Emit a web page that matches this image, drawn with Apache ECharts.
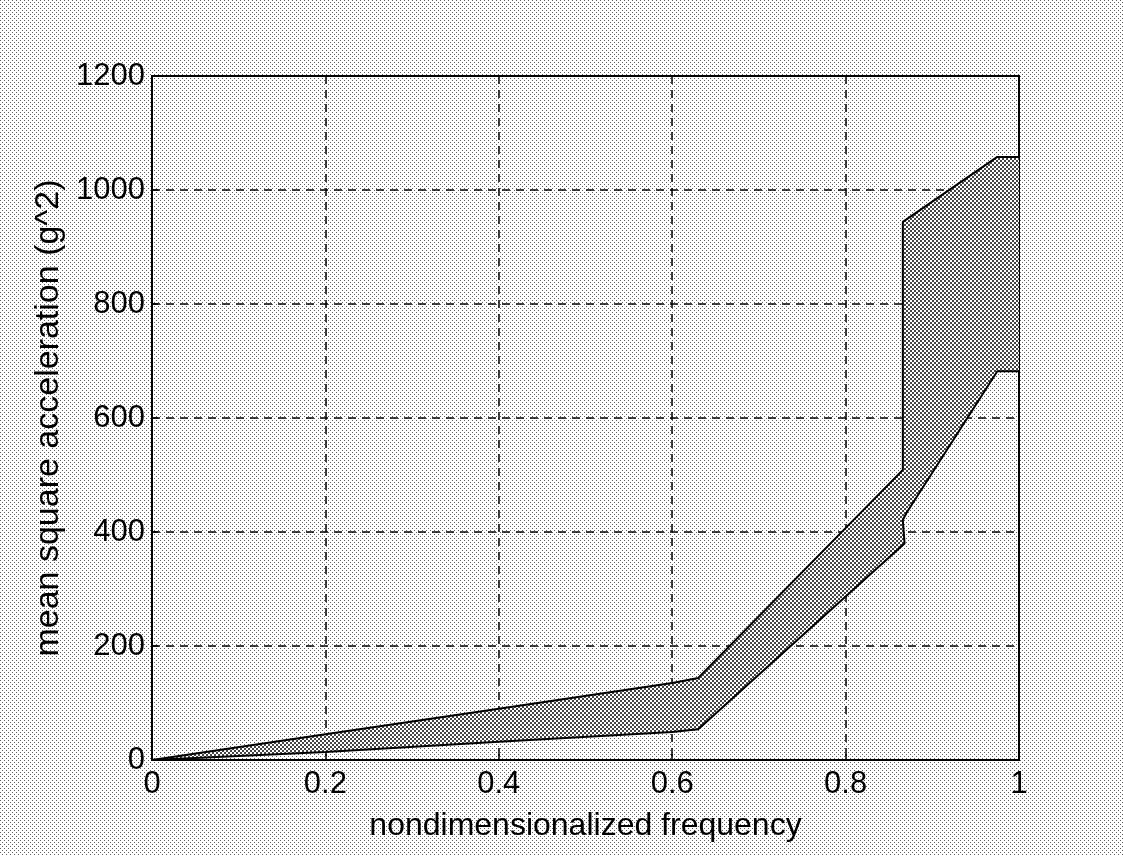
<!DOCTYPE html>
<html>
<head>
<meta charset="utf-8">
<script src="https://cdn.jsdelivr.net/npm/echarts@6/dist/echarts.min.js"></script>
<style>
  html, body { margin: 0; padding: 0; }
  #chart { width: 1123px; height: 855px; }
</style>
</head>
<body>
<div id="chart"></div>
<script>
// upper and lower edges of the band, [frequency, g^2]
var upperCurve = [[0, 0], [0.2, 45], [0.4, 90], [0.6, 135], [0.63, 144], [0.866, 509], [0.866, 944], [0.975, 1058], [1, 1058]];
var lowerCurve = [[0, 0], [0.2, 14], [0.4, 32], [0.6, 49], [0.63, 54], [0.868, 380], [0.866, 421], [0.87, 433], [0.975, 682], [1, 682]];
var xTicks = [0, 0.2, 0.4, 0.6, 0.8, 1];
var yTicks = [0, 200, 400, 600, 800, 1000, 1200];

function makeDots(size, fg, bg) {
  var c = document.createElement('canvas');
  c.width = 4;
  c.height = 4;
  var ctx = c.getContext('2d');
  ctx.fillStyle = bg;
  ctx.fillRect(0, 0, 4, 4);
  ctx.fillStyle = fg;
  ctx.fillRect(0, 0, size, size);
  ctx.fillRect(2, 2, size, size);
  return c;
}

var lightDots = makeDots(1, '#5e5e5e', '#ffffff');
var darkDots = makeDots(2, '#444444', '#ffffff');

var dom = document.getElementById('chart');
var chart = echarts.init(dom);

var font = 'Liberation Sans, Arial, sans-serif';

var option = {
  animation: false,
  backgroundColor: { image: lightDots, repeat: 'repeat' },
  grid: {
    left: 152,
    right: 104,
    top: 76,
    bottom: 95,
    show: true,
    borderColor: '#000',
    borderWidth: 2,
    backgroundColor: 'transparent'
  },
  xAxis: {
    type: 'value',
    min: 0,
    max: 1,
    interval: 0.2,
    name: 'nondimensionalized frequency',
    nameLocation: 'middle',
    nameGap: 50,
    nameMoveOverlap: false,
    nameTextStyle: { color: '#000', fontSize: 32, fontFamily: font, verticalAlign: 'top' },
    axisLine: { lineStyle: { color: '#000', width: 2 } },
    axisTick: { inside: true, length: 6, lineStyle: { color: '#000', width: 1.5 } },
    axisLabel: {
      color: '#000',
      fontSize: 31,
      fontFamily: font,
      margin: 9,
      formatter: function(v) {
        var idx = xTicks.indexOf(Math.round(v * 10) / 10);
        return idx >= 0 ? String(xTicks[idx]) : '';
      }
    },
    splitLine: { lineStyle: { color: '#000', width: 1.5, type: [8, 6] } }
  },
  yAxis: {
    type: 'value',
    min: 0,
    max: 1200,
    interval: 200,
    name: 'mean square acceleration (g^2)',
    nameLocation: 'middle',
    nameGap: 86,
    nameMoveOverlap: false,
    nameTextStyle: { color: '#000', fontSize: 34, fontFamily: font },
    axisLine: { show: true, lineStyle: { color: '#000', width: 2 } },
    axisTick: { show: true, inside: true, length: 6, lineStyle: { color: '#000', width: 1.5 } },
    axisLabel: {
      color: '#000',
      fontSize: 31,
      fontFamily: font,
      margin: 7,
      formatter: function(v) {
        return yTicks.indexOf(v) >= 0 ? String(v) : '';
      }
    },
    splitLine: { lineStyle: { color: '#000', width: 1.5, type: [8, 6] } }
  },
  series: [
    {
      type: 'custom',
      silent: true,
      clip: true,
      z: 1,
      data: [[0, 0]],
      renderItem: function(params, api) {
        var pts = [];
        for (var i = 0; i < upperCurve.length; i++) {
          pts.push(api.coord(upperCurve[i]));
        }
        for (var j = lowerCurve.length - 1; j >= 0; j--) {
          pts.push(api.coord(lowerCurve[j]));
        }
        return {
          type: 'polygon',
          shape: { points: pts },
          style: { fill: { image: darkDots, repeat: 'repeat' }, stroke: null }
        };
      }
    },
    {
      type: 'line',
      data: upperCurve,
      symbol: 'none',
      z: 3,
      lineStyle: { color: '#000', width: 2 }
    },
    {
      type: 'line',
      data: lowerCurve,
      symbol: 'none',
      z: 3,
      lineStyle: { color: '#000', width: 2 }
    }
  ]
};

chart.setOption(option);
</script>
</body>
</html>
